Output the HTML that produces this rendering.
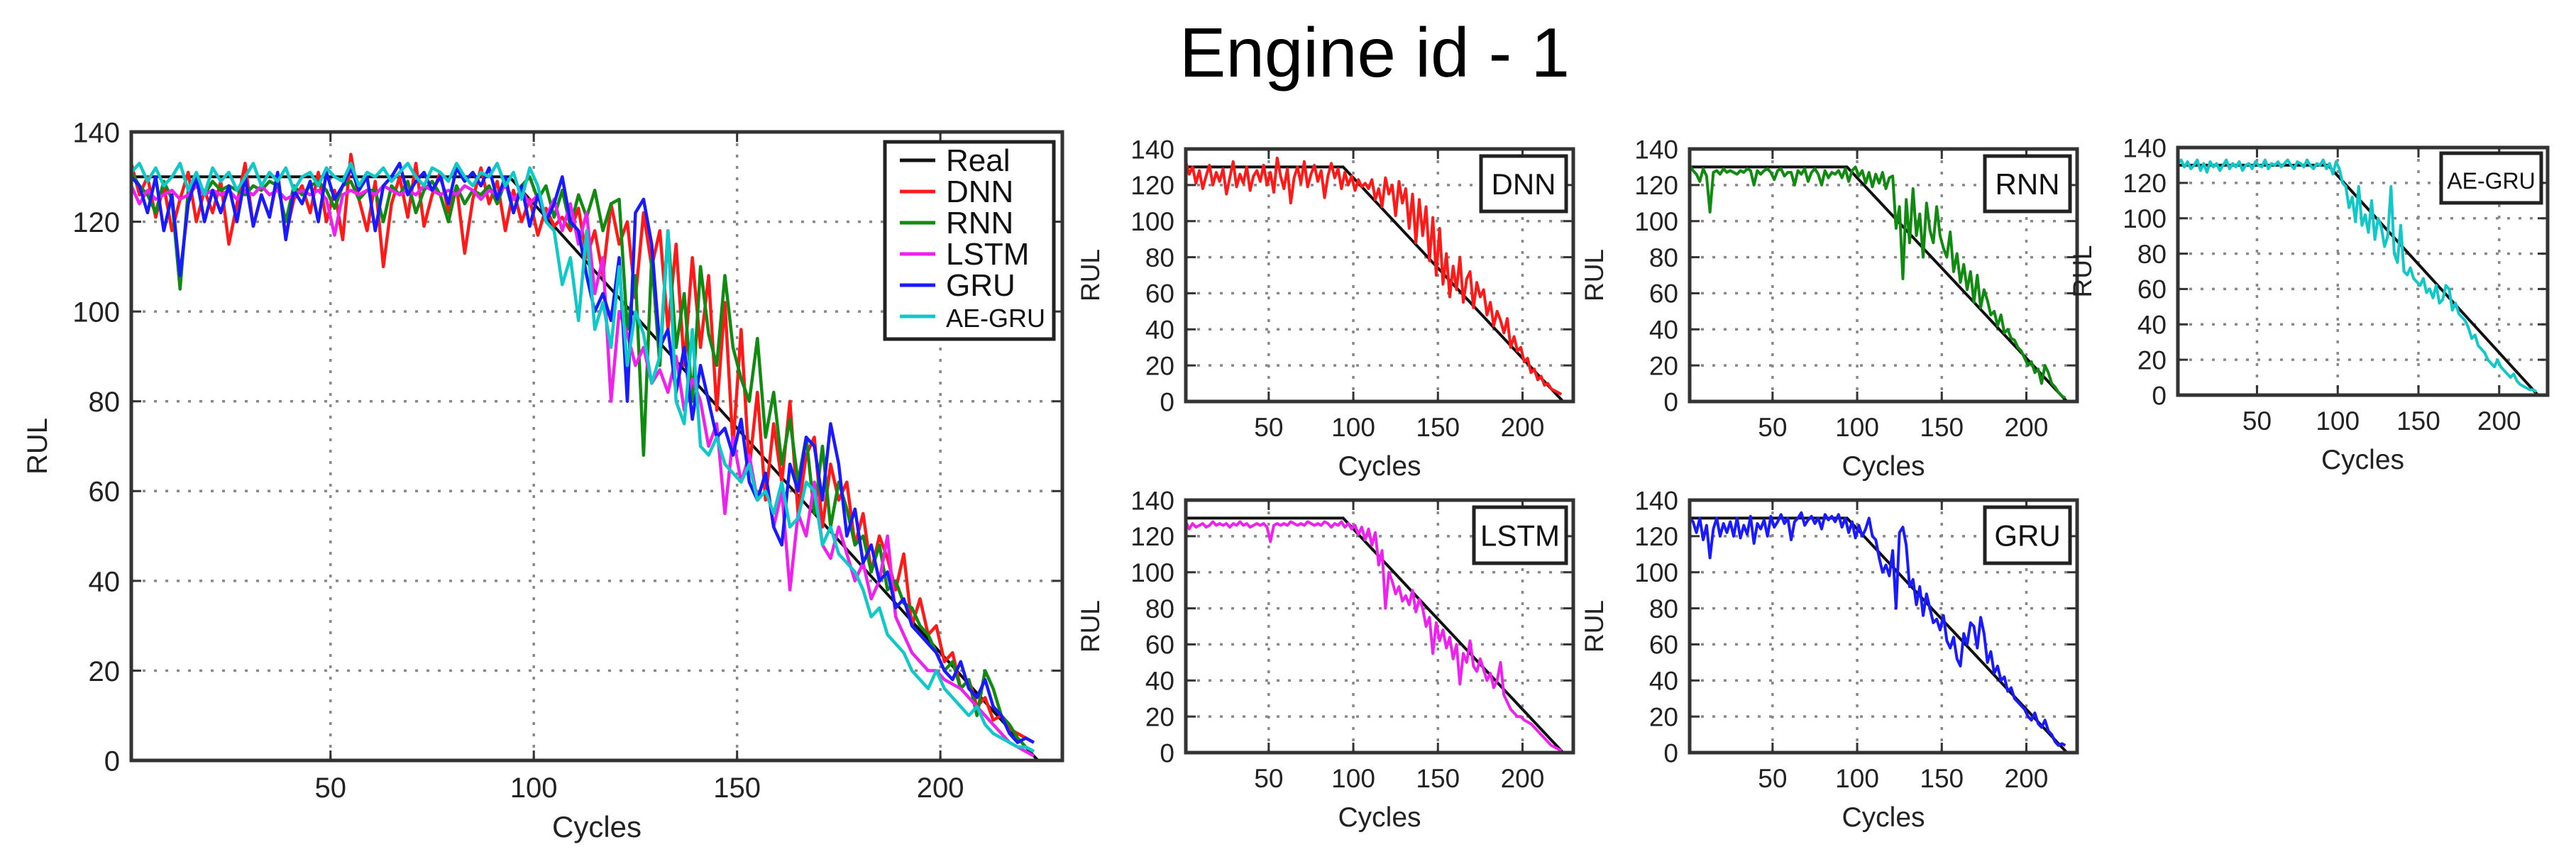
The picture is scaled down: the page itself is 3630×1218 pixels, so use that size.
<!DOCTYPE html>
<html><head><meta charset="utf-8"><style>
html,body{margin:0;padding:0;background:#fff;}
svg{display:block;font-family:"Liberation Sans",sans-serif;}
</style></head><body>
<svg id="fig" width="3630" height="1218" viewBox="0 0 3630 1218" xmlns="http://www.w3.org/2000/svg">
<rect width="3630" height="1218" fill="#fff"/>
<text x="1937" y="108" text-anchor="middle" font-size="98" textLength="550" lengthAdjust="spacingAndGlyphs" fill="#000">Engine id - 1</text>
</svg>
<script>
// ---- data ----
const xTicks = [50, 100, 150, 200];
const yTicks = [0, 20, 40, 60, 80, 100, 120, 140];
const realCycles = [1, 94, 224];
const realRUL = [130, 130, 0];
const cycleStart = 1;
const cycleStep = 2;
const dnnRUL = [133,126,130,121,128,118,125,131,120,127,122,
129,115,124,133,119,126,121,130,117,125,128,
122,131,120,127,116,135,125,118,129,110,124,
130,121,133,119,126,131,122,128,113,125,132,
124,129,118,127,120,125,117,123,119,121,118,
123,112,118,108,124,115,120,103,122,110,118,
96,115,88,112,92,108,78,102,70,96,65,
82,58,75,62,80,55,68,72,52,66,58,
62,48,55,42,50,45,38,46,30,36,28,
30,22,24,16,18,12,14,9,10,7,6,5,4];
const rnnRUL = [131,128,126,122,129,125,105,127,128,126,129,
127,128,127,126,128,127,129,128,120,128,126,
128,129,127,123,128,129,125,127,127,120,128,
126,129,122,127,129,126,120,128,124,127,126,
128,124,129,122,128,130,125,128,121,127,119,
126,121,127,118,124,125,96,108,68,112,88,
118,92,104,80,110,95,88,108,92,85,80,
94,72,82,66,76,62,72,55,70,52,62,
56,48,50,42,48,38,40,35,34,30,28,
24,20,22,16,18,10,20,16,10,8,5,3,2];
const lstmRUL = [128,124,127,125,126,127,125,126,128,126,127,
126,127,125,127,126,128,126,127,125,126,127,
126,127,125,117,126,127,126,127,126,128,127,
126,127,126,128,127,126,127,126,128,127,125,
127,126,128,125,127,124,126,121,125,118,124,
115,122,104,112,80,100,95,88,92,84,87,
82,90,78,85,80,70,75,55,72,62,68,
58,64,52,60,38,55,50,62,48,45,52,
46,40,44,36,40,50,32,28,24,22,20,
20,18,17,16,14,12,10,8,6,4,3,2,1];
const gruRUL = [130,128,122,130,118,126,108,124,130,120,127,
122,128,120,130,119,126,121,131,116,127,124,
129,120,131,125,128,132,127,130,118,128,130,
133,126,129,131,127,130,124,132,129,131,128,
132,125,130,122,128,119,126,120,124,130,120,
118,108,100,104,98,112,80,122,125,115,92,
96,82,92,76,88,80,72,74,68,76,62,
58,64,52,48,66,60,72,70,58,75,66,
50,56,44,48,40,42,34,36,30,28,26,
24,20,18,22,16,14,18,12,10,6,4,5,4];
const aeGruRUL = [131,133,129,132,128,130,133,127,131,126,132,
129,131,127,130,133,128,131,129,132,127,130,
131,128,132,130,129,133,128,131,130,132,129,
131,133,130,128,132,131,129,133,130,128,131,
130,133,128,131,125,132,128,120,118,106,112,
98,118,96,102,92,110,88,100,95,84,90,
118,80,75,96,70,68,72,66,64,62,66,
58,60,55,62,52,54,62,60,48,52,46,
44,42,38,32,34,28,26,24,20,18,16,
20,16,14,12,10,12,8,6,5,4,3,3,2];
const seriesNames = ["DNN","RNN","LSTM","GRU","AE-GRU"];
const seriesColors = ["#ff1a1a","#108a10","#ee22ee","#1a1aff","#10c8c8"];
const seriesData = [dnnRUL, rnnRUL, lstmRUL, gruRUL, aeGruRUL];
const xMin = 1, xMax = 230, yMin = 0, yMax = 140;

const NS = "http://www.w3.org/2000/svg";
const svg = document.getElementById("fig");
function mk(tag, attrs, parent) {
  const e = document.createElementNS(NS, tag);
  for (const k in attrs) e.setAttribute(k, attrs[k]);
  (parent || svg).appendChild(e);
  return e;
}

function drawPanel(p) {
  const g = mk("g", {});
  
  
  const sx = v => p.x0 + (v - xMin) / (xMax - xMin) * (p.x1 - p.x0);
  const sy = v => p.y1 - (v - yMin) / (yMax - yMin) * (p.y1 - p.y0);
  xTicks.forEach(t => {
    const l = mk("line", {x1: sx(t), x2: sx(t), y1: p.y0, y2: p.y1, stroke: "#888", "stroke-width": 3.5, "stroke-dasharray": "4 12"}, g);
    
    
  });
  yTicks.forEach(t => {
    if (t === yMin || t === yMax) return;
    const l = mk("line", {x1: p.x0, x2: p.x1, y1: sy(t), y2: sy(t), stroke: "#888", "stroke-width": 3.5, "stroke-dasharray": "4 12"}, g);
    
    
  });
  const rp = realCycles.map((c, i) => sx(c) + "," + sy(realRUL[i])).join(" ");
  const rl = mk("polyline", {points: rp, fill: "none", stroke: "#111", "stroke-width": p.rlw}, g);
  
  
  p.series.forEach(si => {
    const arr = seriesData[si];
    const pts = arr.map((v, i) => sx(cycleStart + i * cycleStep) + "," + sy(v)).join(" ");
    const pl = mk("polyline", {points: pts, fill: "none", stroke: seriesColors[si], "stroke-width": p.lw, "stroke-linejoin": "round"}, g);
    
    
  });
  const fr = mk("rect", {x: p.x0, y: p.y0, width: p.x1 - p.x0, height: p.y1 - p.y0, fill: "none", stroke: "#333", "stroke-width": 5}, g);
  
  
  xTicks.forEach(t => {
    mk("line", {x1: sx(t), x2: sx(t), y1: p.y1, y2: p.y1 - 14, stroke: "#333", "stroke-width": 3}, g);
    mk("line", {x1: sx(t), x2: sx(t), y1: p.y0, y2: p.y0 + 14, stroke: "#333", "stroke-width": 3}, g);
    const tx = mk("text", {x: sx(t), y: p.y1 + p.fs + 12, "text-anchor": "middle", "font-size": p.fs, fill: "#222"}, g);
    tx.textContent = t;
    
    
  });
  yTicks.forEach(t => {
    mk("line", {x1: p.x0, x2: p.x0 + 14, y1: sy(t), y2: sy(t), stroke: "#333", "stroke-width": 3}, g);
    mk("line", {x1: p.x1, x2: p.x1 - 14, y1: sy(t), y2: sy(t), stroke: "#333", "stroke-width": 3}, g);
    const ty = mk("text", {x: p.x0 - 16, y: sy(t) + p.fs * 0.36, "text-anchor": "end", "font-size": p.fs, fill: "#222"}, g);
    ty.textContent = t;
    
    
  });
  const xl = mk("text", {x: (p.x0 + p.x1) / 2, y: p.xlabY, "text-anchor": "middle", "font-size": p.fs + 2, fill: "#222"}, g);
  xl.textContent = "Cycles";
  
  
  const yc = (p.y0 + p.y1) / 2;
  const yl = mk("text", {x: p.ylabX, y: yc, "text-anchor": "middle", "font-size": p.fs, fill: "#222", transform: "rotate(-90 " + p.ylabX + " " + yc + ")"}, g);
  yl.textContent = "RUL";
  
  
  return g;
}

const mainG = drawPanel({name: "main-chart", x0: 185, x1: 1497, y0: 186, y1: 1072, lw: 4.5, rlw: 4, fs: 40, xlabY: 1180, ylabX: 66, series: [0,1,2,3,4]});
const lg = mk("g", {}, mainG);


mk("rect", {x: 1247, y: 200, width: 238, height: 278, fill: "#fff", stroke: "#222", "stroke-width": 5}, lg);
const legNames = ["Real"].concat(seriesNames);
const legColors = ["#111"].concat(seriesColors);
legNames.forEach((n, i) => {
  const y = 226 + i * 44;
  const ln = mk("line", {x1: 1268, x2: 1318, y1: y, y2: y, stroke: legColors[i], "stroke-width": 5}, lg);
  
  
  const t = mk("text", {x: 1333, y: y + 15, "font-size": n === "AE-GRU" ? 36 : 44, fill: "#111"}, lg);
  t.textContent = n;
  
  
});

const subs = [
  {name: "dnn-chart", x0: 1671, x1: 2217, y0: 210, y1: 566, si: 0, box: [2087, 220, 120, 78]},
  {name: "rnn-chart", x0: 2381, x1: 2927, y0: 210, y1: 566, si: 1, box: [2797, 220, 120, 78]},
  {name: "ae-gru-chart", x0: 3069, x1: 3590, y0: 208, y1: 557, si: 4, box: [3440, 216, 141, 70]},
  {name: "lstm-chart", x0: 1671, x1: 2217, y0: 705, y1: 1061, si: 2, box: [2077, 715, 130, 79]},
  {name: "gru-chart", x0: 2381, x1: 2927, y0: 705, y1: 1061, si: 3, box: [2797, 715, 120, 79]}
];
subs.forEach(s => {
  const g = drawPanel({name: s.name, x0: s.x0, x1: s.x1, y0: s.y0, y1: s.y1, lw: 4, rlw: 4, fs: 37, xlabY: s.y1 + 104, ylabX: s.x0 - 122, series: [s.si]});
  const b = s.box;
  const r = mk("rect", {x: b[0], y: b[1], width: b[2], height: b[3], fill: "#fff", stroke: "#222", "stroke-width": 5}, g);
  
  
  const nm = seriesNames[s.si];
  const t = mk("text", {x: b[0] + b[2] / 2, y: b[1] + b[3] / 2 + 15, "text-anchor": "middle", "font-size": nm === "AE-GRU" ? 32 : 42, fill: "#111"}, g);
  t.textContent = nm;
  
  
});
</script>
</body></html>
